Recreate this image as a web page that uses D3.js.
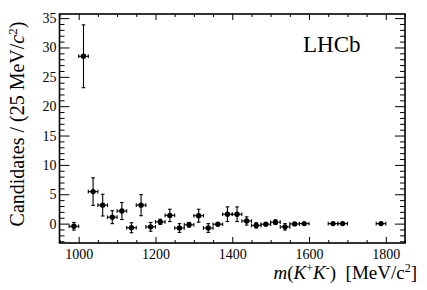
<!DOCTYPE html>
<html>
<head>
<meta charset="utf-8">
<script src="https://cdn.jsdelivr.net/npm/d3@7"></script>
<style>
  body { margin: 0; background: #fff; }
  svg { display: block; font-family: "Liberation Serif", "DejaVu Serif", serif; }
  svg text { font-family: "Liberation Serif", "DejaVu Serif", serif; }
</style>
</head>
<body>
<div id="chart"></div>
<script>
// bin centres (25 MeV bins), yields and errors
const massBins = [987.5, 1012.5, 1037.5, 1062.5, 1087.5, 1112.5, 1137.5, 1162.5, 1187.5, 1212.5,
                  1237.5, 1262.5, 1287.5, 1312.5, 1337.5, 1362.5, 1387.5, 1412.5, 1437.5, 1462.5,
                  1487.5, 1512.5, 1537.5, 1562.5, 1587.5, 1662.5, 1687.5, 1787.5];
const yields = [-0.45, 28.5, 5.45, 3.15, 1.1, 2.15, -0.7, 3.15, -0.55, 0.3,
                1.4, -0.75, -0.2, 1.35, -0.75, -0.1, 1.6, 1.6, 0.45, -0.3,
                -0.1, 0.25, -0.55, -0.05, 0, 0, 0, 0];
const yieldErr = [0.65, 5.35, 2.35, 1.85, 1.1, 1.45, 0.85, 1.8, 0.75, 0.45,
                  1.05, 0.75, 0.4, 1.1, 0.75, 0.3, 1.25, 1.25, 0.7, 0.45,
                  0.2, 0.4, 0.55, 0.15, 0.1, 0.1, 0.1, 0.1];
const binHalf = 12.5;

const xMajor = [1000, 1200, 1400, 1600, 1800];
const yMajor = [0, 5, 10, 15, 20, 25, 30, 35];

const W = 427, H = 290;
const fL = 59.5, fR = 405, fT = 14, fB = 243;

const svg = d3.select('#chart').append('svg')
  .attr('width', W).attr('height', H);

const x = d3.scaleLinear().domain([950, 1850]).range([fL, fR]);
const y = d3.scaleLinear().domain([-3.3, 35.7]).range([fB, fT]);

const xMinor = d3.range(950, 1851, 50).filter(v => !xMajor.includes(v));
const yMinor = d3.range(-3, 36, 1).filter(v => !yMajor.includes(v));

function styleAxis(g) {
  g.attr('font-family', null);
  g.select('.domain').remove();
  g.selectAll('.tick line').attr('stroke', '#000').attr('stroke-width', 1);
}

// bottom axis, labels + ticks pointing in
svg.append('g').attr('transform', `translate(0,${fB})`)
  .call(d3.axisBottom(x).tickValues(xMajor).tickSizeInner(-6).tickSizeOuter(0).tickPadding(6).tickFormat(d3.format('d')))
  .call(styleAxis)
  .selectAll('text').attr('font-size', 14).attr('fill', '#000');
svg.append('g').attr('transform', `translate(0,${fB})`)
  .call(d3.axisBottom(x).tickValues(xMinor).tickSize(-3).tickFormat(''))
  .call(styleAxis);
// top axis
svg.append('g').attr('transform', `translate(0,${fT})`)
  .call(d3.axisTop(x).tickValues(xMajor).tickSize(-6).tickFormat(''))
  .call(styleAxis);
svg.append('g').attr('transform', `translate(0,${fT})`)
  .call(d3.axisTop(x).tickValues(xMinor).tickSize(-3).tickFormat(''))
  .call(styleAxis);

// left axis
svg.append('g').attr('transform', `translate(${fL},0)`)
  .call(d3.axisLeft(y).tickValues(yMajor).tickSizeInner(-10).tickSizeOuter(0).tickPadding(3))
  .call(styleAxis)
  .selectAll('text').attr('font-size', 14).attr('fill', '#000');
svg.append('g').attr('transform', `translate(${fL},0)`)
  .call(d3.axisLeft(y).tickValues(yMinor).tickSize(-5).tickFormat(''))
  .call(styleAxis);
// right axis
svg.append('g').attr('transform', `translate(${fR},0)`)
  .call(d3.axisRight(y).tickValues(yMajor).tickSize(-10).tickFormat(''))
  .call(styleAxis);
svg.append('g').attr('transform', `translate(${fR},0)`)
  .call(d3.axisRight(y).tickValues(yMinor).tickSize(-5).tickFormat(''))
  .call(styleAxis);

// frame
svg.append('rect')
  .attr('x', fL).attr('y', fT)
  .attr('width', fR - fL).attr('height', fB - fT)
  .attr('fill', 'none').attr('stroke', '#000').attr('stroke-width', 1.6);

// data points with error bars
const pts = massBins.map((m, i) => ({ m: m, v: yields[i], e: yieldErr[i] }));
const g = svg.append('g').attr('stroke', '#000').attr('stroke-width', 1.1);
const cap = 1.8;

pts.forEach(p => {
  const cx = x(p.m), cy = y(p.v);
  const x0 = x(p.m - binHalf), x1 = x(p.m + binHalf);
  const y0 = y(p.v - p.e), y1 = y(p.v + p.e);
  g.append('line').attr('x1', x0).attr('x2', x1).attr('y1', cy).attr('y2', cy);
  g.append('line').attr('x1', x0).attr('x2', x0).attr('y1', cy - cap).attr('y2', cy + cap);
  g.append('line').attr('x1', x1).attr('x2', x1).attr('y1', cy - cap).attr('y2', cy + cap);
  if (y0 - y1 > 4) {
    g.append('line').attr('x1', cx).attr('x2', cx).attr('y1', y0).attr('y2', y1);
    g.append('line').attr('x1', cx - cap).attr('x2', cx + cap).attr('y1', y0).attr('y2', y0);
    g.append('line').attr('x1', cx - cap).attr('x2', cx + cap).attr('y1', y1).attr('y2', y1);
  }
});
svg.append('g').selectAll('circle').data(pts).join('circle')
  .attr('cx', d => x(d.m)).attr('cy', d => y(d.v)).attr('r', 2.7).attr('fill', '#000');

// LHCb label
svg.append('text').attr('x', 303).attr('y', 52)
  .attr('font-size', 23).text('LHCb');

// x title
const xt = svg.append('text').attr('x', 417).attr('y', 279)
  .attr('text-anchor', 'end').attr('font-size', 19);
xt.append('tspan').attr('font-style', 'italic').text('m');
xt.append('tspan').text('(');
xt.append('tspan').attr('font-style', 'italic').text('K');
xt.append('tspan').attr('font-size', 12).attr('dy', -7).text('+');
xt.append('tspan').attr('font-style', 'italic').attr('dy', 7).text('K');
xt.append('tspan').attr('font-size', 12).attr('dy', -7).text('-');
xt.append('tspan').attr('dy', 7).text(')\u00a0\u00a0[MeV/c');
xt.append('tspan').attr('font-size', 12).attr('dy', -7).text('2');
xt.append('tspan').attr('dy', 7).text(']');

// y title
const yt = svg.append('text')
  .attr('transform', 'translate(24,124) rotate(-90)')
  .attr('text-anchor', 'middle').attr('font-size', 20);
yt.append('tspan').text('Candidates / (25 MeV/');
yt.append('tspan').attr('font-style', 'italic').text('c');
yt.append('tspan').attr('font-size', 13).attr('dy', -7).text('2');
yt.append('tspan').attr('dy', 7).text(')');
</script>
</body>
</html>
